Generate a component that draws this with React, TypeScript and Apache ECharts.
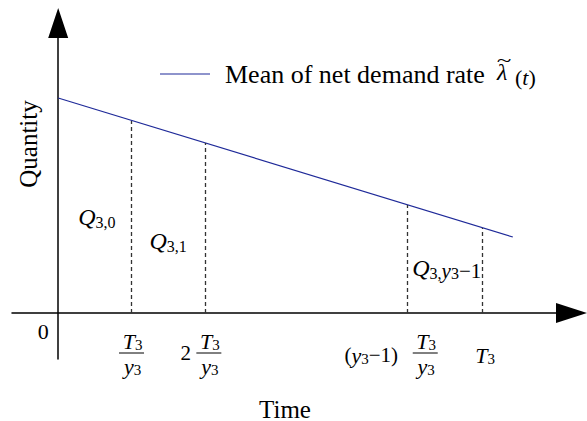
import { useEffect, useRef } from "react";
import * as echarts from "echarts";

const SERIF = "Liberation Serif, Times New Roman, serif";

// Mean net demand rate over one cycle: [time, quantity] end points
const demandTime = [0, 6.2];
const demandRate = [21.5, 7.6];

// Replenishment epochs (T3/y3, 2T3/y3, (y3-1)T3/y3, T3) and the rate reached there
const epochTimes = [1, 2, 4.76, 5.78];
const epochLevels = [19.2, 17.0, 10.8, 8.5];

const seriesName = "Mean of net demand rate";
const axisTitles = { x: "Time", y: "Quantity" };

const LINE_BLUE = "#1f2a99";

const tok = (extra: Record<string, unknown>) => ({
  fontFamily: SERIF,
  fill: "#000",
  color: "#000",
  ...extra,
});

const RICH = {
  v: tok({ fontStyle: "italic", fontSize: 22, lineHeight: 22 }),
  s: tok({ fontSize: 15, lineHeight: 12, verticalAlign: "bottom" }),
  n: tok({ fontSize: 21, lineHeight: 22 }),
  q: tok({ fontStyle: "italic", fontSize: 24, lineHeight: 26 }),
  qs: tok({ fontSize: 16, lineHeight: 14, verticalAlign: "bottom" }),
  qv: tok({ fontStyle: "italic", fontSize: 21, lineHeight: 22, verticalAlign: "bottom" }),
  qn: tok({ fontSize: 21, lineHeight: 22, verticalAlign: "bottom" }),
};

function text(
  x: number,
  y: number,
  str: string,
  align = "center",
  vAlign = "middle",
  extra: Record<string, unknown> = {},
  rotation = 0
) {
  return {
    type: "text",
    x,
    y,
    rotation,
    silent: true,
    style: {
      text: str,
      fontFamily: SERIF,
      fontSize: 21,
      fill: "#000",
      align,
      verticalAlign: vAlign,
      rich: RICH,
      ...extra,
    },
  };
}

// T3 over y3, centred on cx with the bar at barY
function fraction(cx: number, barY: number) {
  return [
    text(cx + 1, barY - 1, "{v|T}{s|3}", "center", "bottom"),
    {
      type: "line",
      silent: true,
      shape: { x1: cx - 12.5, y1: barY, x2: cx + 12.5, y2: barY },
      style: { stroke: "#000", lineWidth: 1 },
    },
    text(cx + 1, barY + 2, "{v|y}{s|3}", "center", "top"),
  ];
}

function buildAnnotations(chart: echarts.ECharts) {
  const at = (x: number, y: number) =>
    chart.convertToPixel({ gridIndex: 0 }, [x, y]) as number[];
  const [ox, oy] = at(0, 0);
  const tx = epochTimes.map((t) => at(t, 0)[0]);
  const bar = oy + 40;

  return [
    // origin
    text(ox - 15, oy + 18, "0", "center", "middle", { fontSize: 22 }),
    // tick labels along the time axis
    ...fraction(tx[0], bar),
    text(tx[1] - 19, bar, "2", "center", "middle", { fontSize: 21 }),
    ...fraction(tx[1] + 4, bar),
    text(tx[2] - 36, oy + 42, "({v|y}{s|3}{n|\u22121)}", "center", "middle", { fontSize: 21 }),
    ...fraction(tx[2] + 18, bar),
    text(tx[3] + 3, oy + 42, "{v|T}{s|3}"),
    // order quantities per sub-period
    text(ox + 20, oy - 96, "{q|Q}{qs|3,0}", "left"),
    text(tx[0] + 18, oy - 72, "{q|Q}{qs|3,1}", "left"),
    text(tx[2] + 5, oy - 45, "{q|Q}{qs|3,}{qv|y}{qs|3}{qn|\u22121}", "left"),
    // axis titles
    text(28, 144, axisTitles.y, "center", "middle", { fontSize: 25 }, Math.PI / 2),
    text(285, 409, axisTitles.x, "center", "middle", { fontSize: 25 }),
    // key: blue stroke, series name and its symbol
    {
      type: "line",
      silent: true,
      shape: { x1: 160, y1: 74, x2: 210, y2: 74 },
      style: { stroke: LINE_BLUE, lineWidth: 1.2 },
    },
    text(225, 74, seriesName, "left", "middle", { fontSize: 26 }),
    text(497, 84, "\u03bb", "left", "bottom", { fontSize: 24, fontStyle: "italic" }),
    {
      type: "text",
      x: 504,
      y: 61,
      scaleX: 1.5,
      silent: true,
      style: {
        text: "~",
        fontFamily: SERIF,
        fontSize: 18,
        fill: "#000",
        align: "center",
        verticalAlign: "middle",
      },
    },
    text(515, 77, "({v|t})", "left", "middle", { fontSize: 22 }),
  ];
}

export default function App() {
  const ref = useRef<HTMLDivElement>(null);

  useEffect(() => {
    if (!ref.current) return;
    const chart = echarts.init(ref.current, undefined, { renderer: "svg" });

    const axisCommon = {
      type: "value" as const,
      axisTick: { show: false },
      axisLabel: { show: false },
      splitLine: { show: false },
    };

    chart.setOption({
      animation: false,
      backgroundColor: "#fff",
      grid: { left: 12, right: 15.5, top: 23, bottom: 62 },
      xAxis: {
        ...axisCommon,
        min: -0.63,
        max: 7.0,
        axisLine: {
          onZero: true,
          symbol: ["none", "triangle"],
          symbolSize: [20, 31],
          lineStyle: { color: "#000", width: 1.5 },
        },
      },
      yAxis: {
        ...axisCommon,
        min: -4.6,
        max: 29,
        axisLine: {
          onZero: true,
          symbol: ["none", "triangle"],
          symbolSize: [20, 30],
          lineStyle: { color: "#000", width: 1.5 },
        },
      },
      series: [
        {
          type: "line",
          name: seriesName,
          data: demandTime.map((t, i) => [t, demandRate[i]]),
          symbol: "none",
          lineStyle: { color: LINE_BLUE, width: 1.2 },
          itemStyle: { color: LINE_BLUE },
          markLine: {
            silent: true,
            symbol: "none",
            label: { show: false },
            lineStyle: { type: [4, 3], color: "#333", width: 1.3 },
            data: epochTimes.map((t, i) => [
              { coord: [t, 0] },
              { coord: [t, epochLevels[i]] },
            ]),
          },
        },
      ],
    });

    chart.setOption({ graphic: buildAnnotations(chart) });

    return () => chart.dispose();
  }, []);

  return (
    <div
      ref={ref}
      style={{ position: "absolute", left: 0, top: 0, width: 587, height: 421 }}
    />
  );
}
